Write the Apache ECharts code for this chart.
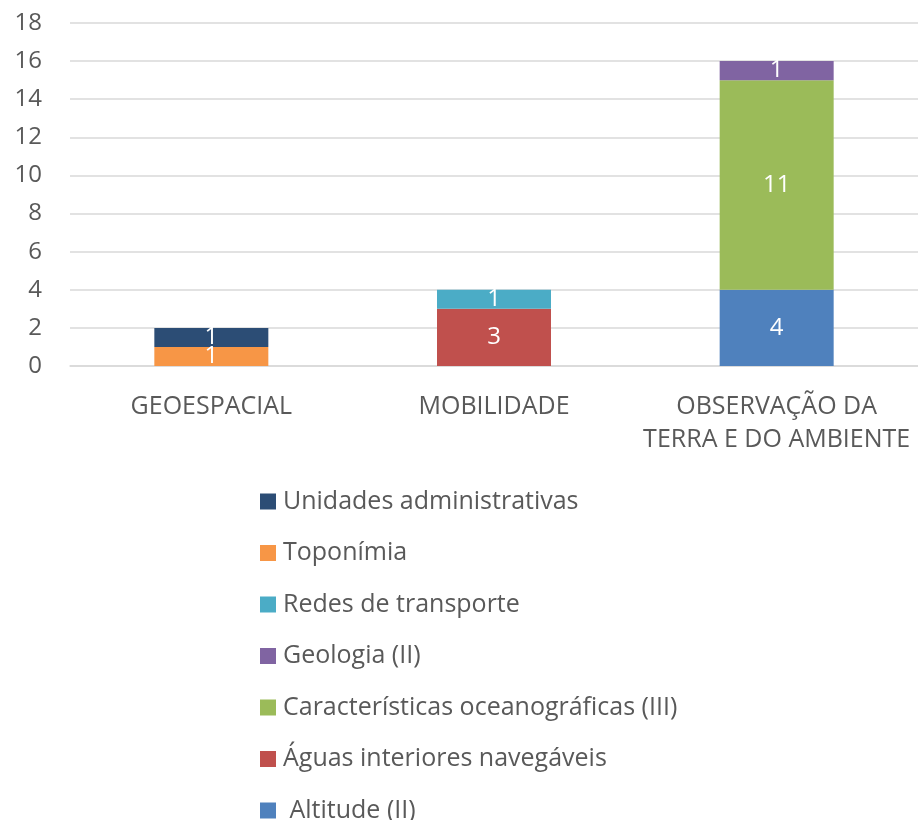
<!DOCTYPE html>
<html>
<head>
<meta charset="utf-8">
<script src="https://cdn.jsdelivr.net/npm/echarts@6/dist/echarts.min.js"></script>
<style>
  html, body { margin: 0; padding: 0; background: #fff; }
  #chart { width: 918px; height: 820px; }
</style>
</head>
<body>
<div id="chart"></div>
<script>
// Themes along the x axis
const categories = ['GEOESPACIAL', 'MOBILIDADE', 'OBSERVAÇÃO DA\nTERRA E DO AMBIENTE'];

// Stacked values per theme (bottom to top in this order)
const altitude = [null, null, 4];
const aguasInteriores = [null, 3, null];
const caracteristicasOceanograficas = [null, null, 11];
const geologia = [null, null, 1];
const redesTransporte = [null, 1, null];
const toponimia = [1, null, null];
const unidadesAdministrativas = [1, null, null];

const yTicks = { min: 0, max: 18, step: 2 };

const seriesDefs = [
  { name: ' Altitude (II)', data: altitude, color: '#4F81BD' },
  { name: 'Águas interiores navegáveis', data: aguasInteriores, color: '#C0504D' },
  { name: 'Características oceanográficas (III)', data: caracteristicasOceanograficas, color: '#9BBB59' },
  { name: 'Geologia (II)', data: geologia, color: '#8064A2' },
  { name: 'Redes de transporte', data: redesTransporte, color: '#4BACC6' },
  { name: 'Toponímia', data: toponimia, color: '#F79646' },
  { name: 'Unidades administrativas', data: unidadesAdministrativas, color: '#2C4D75' }
];

const FONT = '"Open Sans", "Noto Sans", sans-serif';
const chart = echarts.init(document.getElementById('chart'), null, { renderer: 'canvas' });

chart.setOption({
  animation: false,
  textStyle: { fontFamily: FONT },
  grid: { left: 70, right: 0, top: 23, bottom: 454, containLabel: false },
  xAxis: {
    type: 'category',
    data: categories,
    axisLine: { show: true, lineStyle: { color: '#d9d9d9', width: 1.5 } },
    axisTick: { show: false },
    axisLabel: {
      color: '#595959', fontSize: 25, fontFamily: FONT,
      margin: 24, lineHeight: 33, interval: 0
    }
  },
  yAxis: {
    type: 'value',
    min: yTicks.min, max: yTicks.max, interval: yTicks.step,
    axisLine: { show: false },
    axisTick: { show: false },
    splitLine: { lineStyle: { color: '#d9d9d9', width: 1.5 } },
    axisLabel: { color: '#595959', fontSize: 24, fontFamily: FONT, margin: 28, align: 'right' }
  },
  legend: {
    orient: 'vertical',
    left: 260,
    top: 489,
    height: 360,
    padding: 0,
    itemWidth: 16,
    itemHeight: 16,
    itemGap: 26.5,
    icon: 'rect',
    textStyle: { color: '#595959', fontSize: 25, fontFamily: FONT, lineHeight: 22, padding: [0, 0, 0, 2] },
    data: seriesDefs.map(s => s.name).reverse()
  },
  series: seriesDefs.map(s => ({
    name: s.name,
    type: 'bar',
    stack: 'total',
    barWidth: 114,
    data: s.data,
    itemStyle: { color: s.color },
    label: {
      show: true, position: 'inside', color: '#ffffff',
      fontSize: 24, fontFamily: FONT
    }
  }))
});
</script>
</body>
</html>
